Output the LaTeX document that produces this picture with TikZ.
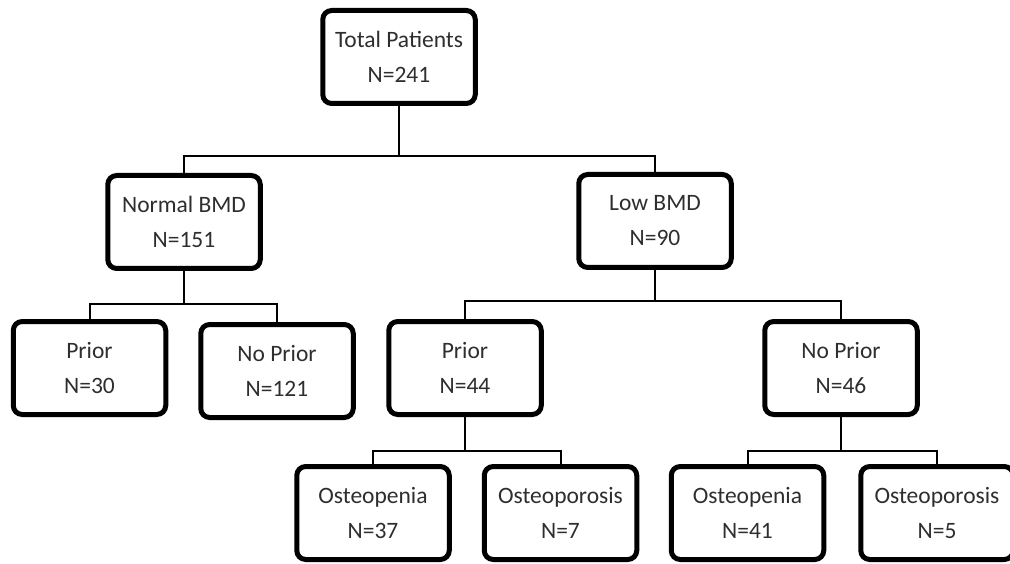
\documentclass[tikz,border=0pt]{standalone}
\usepackage{fontspec}
\setmainfont{Carlito}
\begin{document}
\begin{tikzpicture}[x=1pt,y=-1pt,
    box/.style={draw,line width=5pt,rounded corners=9pt,minimum width=152.5pt,minimum height=93pt,inner sep=0pt,align=center,text=black!82,font=\fontsize{23.5}{35}\selectfont},
    link/.style={line width=2pt}]
    \useasboundingbox (0,0) rectangle (1010,564);
    \node[box] (t) at (399,57) {Total Patients\\N=241};
    \node[box] (n) at (184,222) {Normal BMD\\N=151};
    \node[box] (l) at (655,221) {Low BMD\\N=90};
    \node[box] (np) at (89.5,368) {Prior\\N=30};
    \node[box] (nn) at (277,371) {No Prior\\N=121};
    \node[box] (lp) at (465,368) {Prior\\N=44};
    \node[box] (ln) at (841,368) {No Prior\\N=46};
    \node[box] (lp1) at (373,513) {Osteopenia\\N=37};
    \node[box] (lp2) at (560.5,513) {Osteoporosis\\N=7};
    \node[box] (ln1) at (747.5,513) {Osteopenia\\N=41};
    \node[box] (ln2) at (937,513) {Osteoporosis\\N=5};
    \coordinate (j1) at (399,156);
    \coordinate (j2) at (184,304);
    \coordinate (j3) at (655,301);
    \coordinate (j4) at (465,451);
    \coordinate (j5) at (841,451);
    \draw[link] (t) -- (j1) -| (n);
    \draw[link] (j1) -| (l);
    \draw[link] (n) -- (j2) -| (np);
    \draw[link] (j2) -| (nn);
    \draw[link] (l) -- (j3) -| (lp);
    \draw[link] (j3) -| (ln);
    \draw[link] (lp) -- (j4) -| (lp1);
    \draw[link] (j4) -| (lp2);
    \draw[link] (ln) -- (j5) -| (ln1);
    \draw[link] (j5) -| (ln2);
  \end{tikzpicture}
\end{document}
